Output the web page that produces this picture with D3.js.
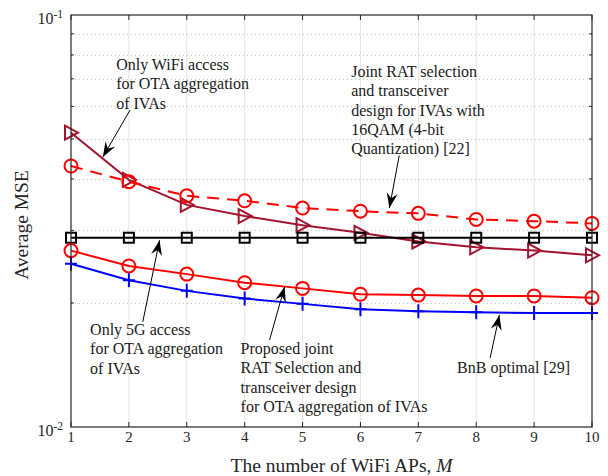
<!DOCTYPE html>
<html>
<head>
<meta charset="utf-8">
<script src="https://cdn.jsdelivr.net/npm/d3@7"></script>
<style>
  body { margin: 0; background: #fff; }
</style>
</head>
<body>
<div id="chart"></div>
<script>
// data
const mValues = [1, 2, 3, 4, 5, 6, 7, 8, 9, 10];
const wifiOnly = [0.0518, 0.0398, 0.0346, 0.0325, 0.0309, 0.0296, 0.0282, 0.0273, 0.0268, 0.0261];
const joint16qam = [0.0430, 0.0394, 0.0364, 0.0354, 0.0340, 0.0334, 0.0330, 0.0319, 0.0316, 0.0312];
const only5g = [0.0288, 0.0288, 0.0288, 0.0288, 0.0288, 0.0288, 0.0288, 0.0288, 0.0288, 0.0288];
const proposed = [0.0268, 0.0246, 0.0235, 0.0224, 0.0217, 0.0210, 0.0209, 0.0208, 0.0208, 0.0206];
const bnb = [0.0249, 0.0227, 0.0214, 0.0205, 0.0199, 0.0193, 0.0191, 0.0190, 0.0189, 0.0189];
const xTicks = [1, 2, 3, 4, 5, 6, 7, 8, 9, 10];

// annotations: text lines + arrow (tail -> tip) in data units
const notes = [
  { lines: ["Only WiFi access", "for OTA aggregation", "of IVAs"], at: [1.78, 0.0735], from: [2.02, 0.0588], to: [1.55, 0.0452] },
  { lines: ["Joint RAT selection", "and transceiver", "design for IVAs with", "16QAM (4-bit", "Quantization) [22]"], at: [5.84, 0.0707], from: [6.67, 0.0456], to: [6.5, 0.0340] },
  { lines: ["Only 5G access", "for OTA aggregation", "of IVAs"], at: [1.33, 0.01672], from: [2.24, 0.0180], to: [2.53, 0.0284] },
  { lines: ["Proposed joint", "RAT Selection and", "transceiver design", "for OTA aggregation of IVAs"], at: [3.93, 0.01504], from: [4.43, 0.01626], to: [4.69, 0.0219] },
  { lines: ["BnB optimal [29]"], at: [7.67, 0.01352], from: [8.24, 0.0147], to: [8.4, 0.0187] }
];

const W = 608, H = 476;
const pL = 71, pR = 592, pT = 15, pB = 427;
const serif = "'Liberation Serif', 'Times New Roman', Times, serif";

const svg = d3.select("#chart").append("svg").attr("width", W).attr("height", H)
  .attr("font-family", serif).style("display", "block");

const x = d3.scaleLinear().domain([1, 10]).range([pL, pR]);
const y = d3.scaleLog().domain([0.01, 0.1]).range([pB, pT]);

const minor = d3.range(2, 10).map(k => k * 0.01);

// grid
svg.append("g").selectAll("line").data(xTicks.slice(1, -1)).join("line")
  .attr("x1", d => x(d)).attr("x2", d => x(d)).attr("y1", pT).attr("y2", pB)
  .attr("stroke", "#e3e3e3").attr("stroke-width", 1);
svg.append("g").selectAll("line").data(minor).join("line")
  .attr("x1", pL).attr("x2", pR).attr("y1", d => Math.round(y(d)) + 0.5).attr("y2", d => Math.round(y(d)) + 0.5)
  .attr("stroke", "#c4c4c4").attr("stroke-width", 1).attr("stroke-dasharray", "1,3");

// series
const line = d3.line().x((d, i) => x(mValues[i])).y(d => y(d));
const series = [
  { v: wifiOnly, color: "#A2142F", marker: "tri", dash: null },
  { v: joint16qam, color: "#FF0000", marker: "circle", dash: "12,8" },
  { v: only5g, color: "#000000", marker: "square", dash: null },
  { v: proposed, color: "#FF0000", marker: "circle", dash: null },
  { v: bnb, color: "#0000FF", marker: "plus", dash: null }
];

series.forEach(s => {
  svg.append("path").datum(s.v).attr("d", line)
    .attr("fill", "none").attr("stroke", s.color).attr("stroke-width", 2)
    .attr("stroke-dasharray", s.dash);
  const g = svg.append("g");
  s.v.forEach((d, i) => {
    const cx = x(mValues[i]), cy = y(d);
    if (s.marker === "circle") {
      g.append("circle").attr("cx", cx).attr("cy", cy).attr("r", 6.5)
        .attr("fill", "none").attr("stroke", s.color).attr("stroke-width", 2);
    } else if (s.marker === "square") {
      g.append("rect").attr("x", cx - 5).attr("y", cy - 5).attr("width", 10).attr("height", 10)
        .attr("fill", "none").attr("stroke", s.color).attr("stroke-width", 2);
    } else if (s.marker === "tri") {
      g.append("path").attr("d", `M${cx - 6},${cy - 7}L${cx + 7},${cy}L${cx - 6},${cy + 7}Z`)
        .attr("fill", "none").attr("stroke", s.color).attr("stroke-width", 2);
    } else if (s.marker === "plus") {
      g.append("path").attr("d", `M${cx - 6},${cy}H${cx + 6}M${cx},${cy - 7}V${cy + 7}`)
        .attr("fill", "none").attr("stroke", s.color).attr("stroke-width", 2);
    }
  });
});

// box + ticks
svg.append("rect").attr("x", pL).attr("y", pT).attr("width", pR - pL).attr("height", pB - pT)
  .attr("fill", "none").attr("stroke", "#262626").attr("stroke-width", 1.2);
const tk = svg.append("g").attr("stroke", "#262626").attr("stroke-width", 1);
xTicks.forEach(t => {
  tk.append("line").attr("x1", x(t)).attr("x2", x(t)).attr("y1", pB).attr("y2", pB - 5);
  tk.append("line").attr("x1", x(t)).attr("x2", x(t)).attr("y1", pT).attr("y2", pT + 5);
});
minor.forEach(t => {
  tk.append("line").attr("x1", pL).attr("x2", pL + 3).attr("y1", y(t)).attr("y2", y(t));
  tk.append("line").attr("x1", pR).attr("x2", pR - 3).attr("y1", y(t)).attr("y2", y(t));
});

// tick labels
svg.append("g").selectAll("text").data(xTicks).join("text")
  .attr("x", d => x(d)).attr("y", pB + 15).attr("text-anchor", "middle")
  .attr("font-size", 15).attr("fill", "#262626").text(d => d);
[[0.1, "-1"], [0.01, "-2"]].forEach(([v, e]) => {
  const t = svg.append("text").attr("x", pL - 8).attr("y", y(v) + 9).attr("text-anchor", "end")
    .attr("font-size", 16).attr("fill", "#262626");
  t.append("tspan").text("10");
  t.append("tspan").attr("dy", -6).attr("font-size", 11.5).text(e);
});

// axis titles
svg.append("text").attr("x", (pL + pR) / 2 + 10).attr("y", 472).attr("text-anchor", "middle")
  .attr("font-size", 19.5).attr("fill", "#262626")
  .html('The number of WiFi APs, <tspan font-style="italic">M</tspan>');
svg.append("text").attr("transform", `translate(28,${(pT + pB) / 2 + 4}) rotate(-90)`)
  .attr("text-anchor", "middle").attr("font-size", 19.5).attr("fill", "#262626").text("Average MSE");

// annotations
notes.forEach(n => {
  const t = svg.append("text").attr("font-size", 16).attr("fill", "#1a1a1a");
  n.lines.forEach((l, i) => {
    t.append("tspan").attr("x", x(n.at[0])).attr("y", y(n.at[1]) + i * 19.3).text(l);
  });
  const x0 = x(n.from[0]), y0 = y(n.from[1]), x1 = x(n.to[0]), y1 = y(n.to[1]);
  const ang = Math.atan2(y1 - y0, x1 - x0) * 180 / Math.PI;
  svg.append("line").attr("x1", x0).attr("y1", y0).attr("x2", x1).attr("y2", y1)
    .attr("stroke", "#000").attr("stroke-width", 1);
  svg.append("path").attr("d", "M0,0L-15,-5.5L-10,0L-15,5.5Z")
    .attr("transform", `translate(${x1},${y1}) rotate(${ang})`).attr("fill", "#000");
});
</script>
</body>
</html>
